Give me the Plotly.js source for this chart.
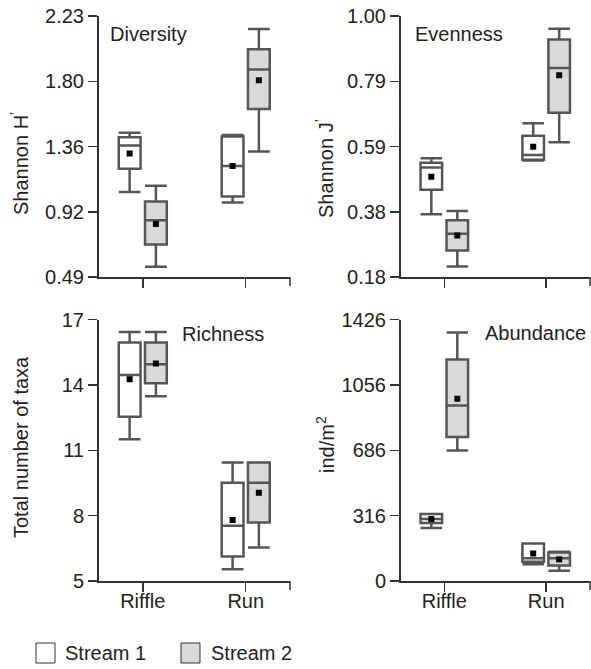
<!DOCTYPE html>
<html>
<head>
<meta charset="utf-8">
<script src="https://cdn.plot.ly/plotly-3.0.1.min.js"></script>
<style>html,body{margin:0;padding:0;background:#fff;}#chart{width:591px;height:669px;}</style>
</head>
<body>
<div id="chart"></div>
<script>
// ---------- DATA ----------
const categories = ['Riffle', 'Run'];
const seriesNames = ['Stream 1', 'Stream 2'];

// Diversity (Shannon H')
const divS1Low = [1.057, 0.986], divS1Q1 = [1.212, 1.026], divS1Med = [1.366, 1.230], divS1Q3 = [1.421, 1.426], divS1Up = [1.452, 1.437], divS1Mean = [1.314, 1.230];
const divS2Low = [0.559, 1.326], divS2Q1 = [0.706, 1.610], divS2Med = [0.868, 1.874], divS2Q3 = [0.994, 2.008], divS2Up = [1.099, 2.143], divS2Mean = [0.843, 1.801];
const divTicks = ['0.49', '0.92', '1.36', '1.80', '2.23'];

// Evenness (Shannon J')
const evS1Low = [0.377, 0.546], evS1Q1 = [0.454, 0.548], evS1Med = [0.524, 0.563], evS1Q3 = [0.539, 0.624], evS1Up = [0.553, 0.663], evS1Mean = [0.495, 0.589];
const evS2Low = [0.213, 0.603], evS2Q1 = [0.263, 0.696], evS2Med = [0.316, 0.837], evS2Q3 = [0.358, 0.926], evS2Up = [0.387, 0.960], evS2Mean = [0.310, 0.814];
const evTicks = ['0.18', '0.38', '0.59', '0.79', '1.00'];

// Richness (total number of taxa)
const riS1Low = [11.51, 5.54], riS1Q1 = [12.54, 6.12], riS1Med = [14.45, 7.54], riS1Q3 = [15.95, 9.51], riS1Up = [16.43, 10.44], riS1Mean = [14.26, 7.80];
const riS2Low = [13.48, 6.54], riS2Q1 = [14.07, 7.68], riS2Med = [14.95, 9.51], riS2Q3 = [15.95, 10.44], riS2Up = [16.43, 10.44], riS2Mean = [14.98, 9.05];
const riTicks = ['5', '8', '11', '14', '17'];

// Abundance (ind/m2)
const abS1Low = [289, 91], abS1Q1 = [316, 105], abS1Med = [338, 124], abS1Q3 = [366, 205], abS1Up = [366, 205], abS1Mean = [338, 150];
const abS2Low = [712, 56], abS2Q1 = [785, 84], abS2Med = [957, 124], abS2Q3 = [1208, 156], abS2Up = [1355, 160], abS2Mean = [994, 118];
const abTicks = ['0', '316', '686', '1056', '1426'];

const panelTitles = ['Diversity', 'Evenness', 'Richness', 'Abundance'];
const yTitles = ['Shannon H<sup>\u2019</sup>', 'Shannon J<sup>\u2019</sup>', 'Total number of taxa', 'ind/m<sup>2</sup>'];

// ---------- STYLE ----------
const W = 591, H = 669;
const FONT = 'Liberation Sans, Arial, Helvetica, sans-serif';
const TXT = '#222';
const AX = '#333';
const BOXLINE = '#555';
const fills = ['#ffffff', '#d9d9d9'];
const px = v => v / W;
const py = v => 1 - v / H;

const panels = [
  {xa: 'x',  ya: 'y',  s: [[divS1Low, divS1Q1, divS1Med, divS1Q3, divS1Up, divS1Mean], [divS2Low, divS2Q1, divS2Med, divS2Q3, divS2Up, divS2Mean]], range: [0.49, 2.23], ticks: divTicks},
  {xa: 'x2', ya: 'y2', s: [[evS1Low, evS1Q1, evS1Med, evS1Q3, evS1Up, evS1Mean], [evS2Low, evS2Q1, evS2Med, evS2Q3, evS2Up, evS2Mean]], range: [0.18, 1.00], ticks: evTicks},
  {xa: 'x3', ya: 'y3', s: [[riS1Low, riS1Q1, riS1Med, riS1Q3, riS1Up, riS1Mean], [riS2Low, riS2Q1, riS2Med, riS2Q3, riS2Up, riS2Mean]], range: [5, 17], ticks: riTicks},
  {xa: 'x4', ya: 'y4', s: [[abS1Low, abS1Q1, abS1Med, abS1Q3, abS1Up, abS1Mean], [abS2Low, abS2Q1, abS2Med, abS2Q3, abS2Up, abS2Mean]], range: [0, 1426], ticks: abTicks}
];

const traces = [];
panels.forEach((p, pi) => {
  p.s.forEach((st, si) => {
    traces.push({
      type: 'box', name: seriesNames[si], x: categories,
      lowerfence: st[0], q1: st[1], median: st[2], q3: st[3], upperfence: st[4],
      xaxis: p.xa, yaxis: p.ya, offsetgroup: 'g' + si, alignmentgroup: 'a' + pi,
      fillcolor: fills[si], line: {color: BOXLINE, width: 2.5}, whiskerwidth: 1,
      boxpoints: false, showlegend: false, hoverinfo: 'skip'
    });
  });
  p.s.forEach((st, si) => {
    traces.push({
      type: 'scatter', mode: 'markers', name: seriesNames[si] + ' mean', x: categories, y: st[5],
      xaxis: p.xa, yaxis: p.ya, offsetgroup: 'g' + si, alignmentgroup: 'a' + pi, orientation: 'v',
      marker: {symbol: 'square', size: 6, color: '#000'}, showlegend: false, hoverinfo: 'skip'
    });
  });
});

// domains measured in pixels
const xDomL = [px(98.5), px(290)], xDomR = [px(400.5), px(590)];
const yDomT = [py(277), py(16)], yDomB = [py(581), py(319.5)];
const xr = [-0.43, 1.43];

function xaxis(dom, anchor, labels) {
  return {
    domain: dom, anchor: anchor, type: 'category', range: xr, fixedrange: true,
    showline: true, linecolor: AX, linewidth: 1.5, ticks: 'outside', ticklen: 9, tickwidth: 1.5, tickcolor: AX,
    showgrid: false, zeroline: false, showticklabels: labels, ticklabelstandoff: -8,
    tickfont: {family: FONT, size: 20, color: TXT}
  };
}
function yaxis(dom, anchor, p) {
  const n = p.ticks.length;
  const vals = p.ticks.map((t, i) => p.range[0] + (p.range[1] - p.range[0]) * i / (n - 1));
  return {
    domain: dom, anchor: anchor, range: p.range, fixedrange: true,
    tickmode: 'array', tickvals: vals, ticktext: p.ticks,
    showline: true, linecolor: AX, linewidth: 1.5, ticks: 'outside', ticklen: 9, tickwidth: 1.5, tickcolor: AX,
    showgrid: false, zeroline: false,
    tickfont: {family: FONT, size: 20, color: TXT}
  };
}

const annotations = [];
const titlePos = [[108, 34], [413, 34], [180, 334], [483, 333]];
panelTitles.forEach((t, i) => annotations.push({
  xref: 'paper', yref: 'paper', x: px(titlePos[i][0]), y: py(titlePos[i][1]),
  xanchor: 'left', yanchor: 'middle', text: t, showarrow: false,
  font: {family: FONT, size: 20, color: TXT}
}));
const yTitlePos = [[20, 164], [324, 169], [21, 447], [325, 444]];
yTitles.forEach((t, i) => annotations.push({
  xref: 'paper', yref: 'paper', x: px(yTitlePos[i][0]), y: py(yTitlePos[i][1]),
  xanchor: 'center', yanchor: 'middle', text: t, textangle: -90, showarrow: false,
  font: {family: FONT, size: 20, color: TXT}
}));

const shapes = [];
// end ticks at right end of each x axis
[['x', 'y'], ['x2', 'y2'], ['x3', 'y3'], ['x4', 'y4']].forEach(a => shapes.push({
  type: 'line', xref: a[0] + ' domain', yref: a[1] + ' domain', x0: 1, x1: 1,
  ysizemode: 'pixel', yanchor: 0, y0: 0, y1: -9, line: {color: AX, width: 1.5}
}));
// legend
const legX = [[36, 55, 63], [181, 200, 209]];
seriesNames.forEach((n, i) => {
  shapes.push({type: 'rect', xref: 'paper', yref: 'paper', x0: px(legX[i][0]), x1: px(legX[i][1]), y0: py(663), y1: py(643),
    fillcolor: fills[i], line: {color: '#333', width: 1}});
  annotations.push({xref: 'paper', yref: 'paper', x: px(legX[i][2]), y: py(653), xanchor: 'left', yanchor: 'middle',
    text: n, showarrow: false, font: {family: FONT, size: 20, color: TXT}});
});

const layout = {
  width: W, height: H, margin: {l: 0, r: 0, t: 0, b: 0},
  paper_bgcolor: '#fff', plot_bgcolor: '#fff', showlegend: false,
  font: {family: FONT, size: 20, color: TXT},
  boxmode: 'group', boxgap: 0.49, boxgroupgap: 0.17,
  scattermode: 'group', scattergap: 0.49,
  xaxis: xaxis(xDomL, 'y', false), yaxis: yaxis(yDomT, 'x', panels[0]),
  xaxis2: xaxis(xDomR, 'y2', false), yaxis2: yaxis(yDomT, 'x2', panels[1]),
  xaxis3: xaxis(xDomL, 'y3', true), yaxis3: yaxis(yDomB, 'x3', panels[2]),
  xaxis4: xaxis(xDomR, 'y4', true), yaxis4: yaxis(yDomB, 'x4', panels[3]),
  annotations: annotations, shapes: shapes
};

Plotly.newPlot('chart', traces, layout, {staticPlot: true, displayModeBar: false});
</script>
</body>
</html>
